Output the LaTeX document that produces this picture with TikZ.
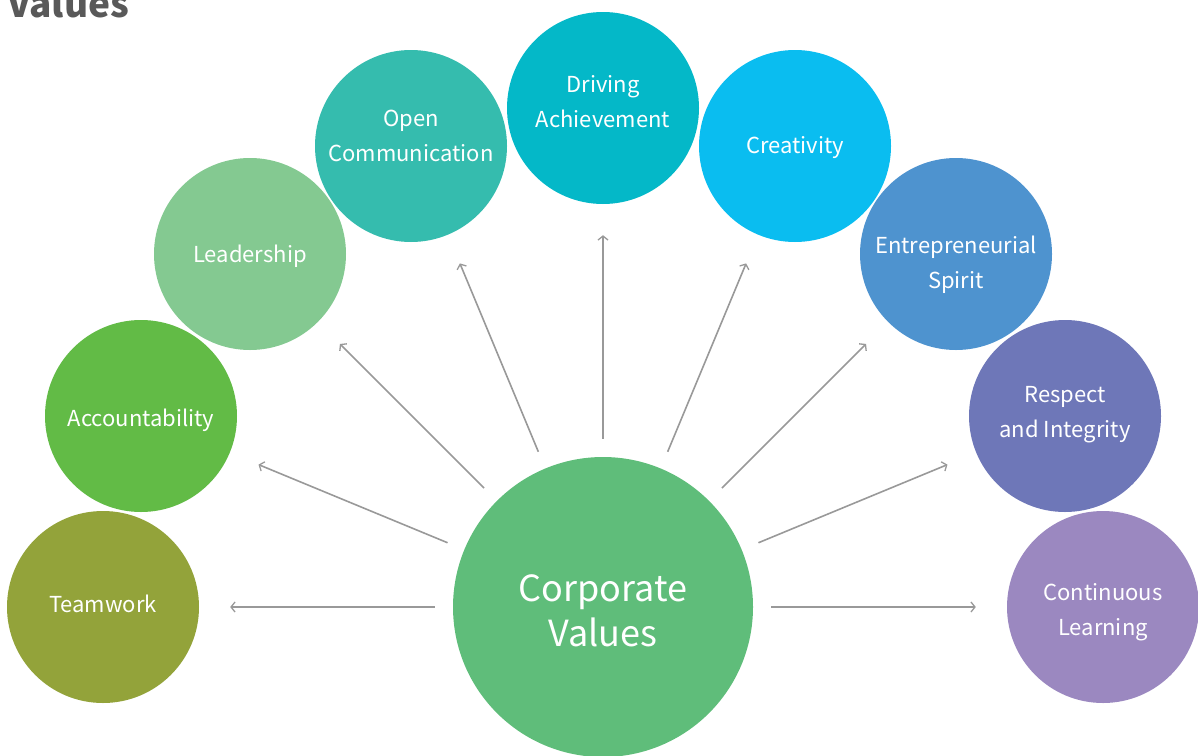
\documentclass[tikz,border=0pt]{standalone}
\usepackage{fontspec}
\setmainfont{Noto Sans CJK SC}
\usetikzlibrary{arrows.meta}
\definecolor{cTeam}{HTML}{93A33A}
\definecolor{cAcc}{HTML}{62BB46}
\definecolor{cLead}{HTML}{84C991}
\definecolor{cOpen}{HTML}{35BCAE}
\definecolor{cDrive}{HTML}{04B8C8}
\definecolor{cCrea}{HTML}{0ABDF0}
\definecolor{cEntr}{HTML}{4E93CF}
\definecolor{cResp}{HTML}{6E77B8}
\definecolor{cCont}{HTML}{9B88C0}
\definecolor{cCore}{HTML}{5FBD7A}
\definecolor{cArrow}{HTML}{999999}
\definecolor{cTitle}{HTML}{595959}
\tikzset{
  valuecircle/.style={circle, minimum size=192pt, inner sep=0pt},
  valuetext/.style={text=white, align=center, inner sep=0pt,
    font=\fontsize{22}{35}\selectfont},
  corecircle/.style={circle, minimum size=300pt, inner sep=0pt, fill=cCore},
  coretext/.style={text=white, align=center, inner sep=0pt,
    font=\fontsize{36}{45}\selectfont},
  link/.style={draw=cArrow, line width=1.6pt, -{Straight Barb[length=4pt,width=10pt,line width=1.3pt]},
    shorten <=18pt, shorten >=31pt},
}
\begin{document}
\begin{tikzpicture}[x=1pt,y=-1pt]
\useasboundingbox (0,0) rectangle (1198,755);
\clip (0,0) rectangle (1198,755);
\node[anchor=base west, text=cTitle, font=\fontsize{37}{40}\selectfont\bfseries, inner sep=0pt] (title) at (7,17) {Values};
\node[corecircle, label={[coretext, yshift=-4pt]center:Corporate\\Values}] (cv) at (603,607) {};
\node[valuecircle, fill=cTeam, label={[valuetext, yshift=3pt]center:Teamwork}] (tw) at (103,607) {};
\node[valuecircle, fill=cAcc, label={[valuetext, yshift=-4pt]center:Accountability}] (ac) at (141,416) {};
\node[valuecircle, fill=cLead, label={[valuetext, yshift=-2pt]center:Leadership}] (ld) at (250,254) {};
\node[valuecircle, fill=cOpen, label={[valuetext, yshift=10pt]center:Open\\Communication}] (oc) at (411,146) {};
\node[valuecircle, fill=cDrive, label={[valuetext, yshift=6pt]center:Driving\\Achievement}] (da) at (603,108) {};
\node[valuecircle, fill=cCrea, label={[valuetext, yshift=-2pt]center:Creativity}] (cr) at (795,146) {};
\node[valuecircle, fill=cEntr, label={[valuetext, yshift=-11pt]center:Entrepreneurial\\Spirit}] (es) at (956,254) {};
\node[valuecircle, fill=cResp, label={[valuetext, yshift=1.5pt]center:Respect\\and Integrity}] (ri) at (1065,416) {};
\node[valuecircle, fill=cCont, label={[valuetext, yshift=-5pt]center:Continuous\\Learning}] (cl) at (1103,607) {};
\foreach \t in {tw,ac,ld,oc,da,cr,es,ri,cl}{
  \draw[link] (cv) -- (\t);
}
\end{tikzpicture}
\end{document}
